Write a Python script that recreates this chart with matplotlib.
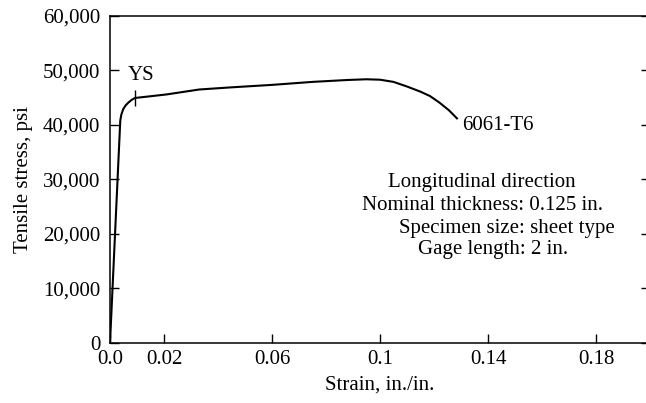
import matplotlib
matplotlib.use("Agg")
import matplotlib.pyplot as plt
from matplotlib.ticker import FuncFormatter

plt.rcParams['font.family'] = ['Liberation Serif', 'DejaVu Serif']

strain = [0, 0.0038, 0.0042, 0.0049, 0.0058, 0.0068, 0.0080, 0.0093, 0.013,
          0.021, 0.033, 0.045, 0.06, 0.075, 0.088, 0.095, 0.100, 0.105, 0.110,
          0.115, 0.1185, 0.122, 0.1255, 0.1285]
stress = [0, 40800, 41900, 42900, 43600, 44100, 44600, 44950, 45150,
          45600, 46500, 46900, 47350, 47900, 48250, 48380, 48300, 47900, 47050,
          46100, 45300, 44100, 42700, 41200]

ys_strain = 0.0093
ys_stress = 44950

x_ticks = [0.0, 0.02, 0.06, 0.1, 0.14, 0.18]
x_ticklabels = ["0.0", "0.02", "0.06", "0.1", "0.14", "0.18"]
y_ticks = [0, 10000, 20000, 30000, 40000, 50000, 60000]

notes = ["Longitudinal direction", "Nominal thickness: 0.125 in.",
         "Specimen size: sheet type", "Gage length: 2 in."]

FS = 15

fig = plt.figure(figsize=(6.46, 4.03), dpi=100)
ax = fig.add_axes([0.1703, 0.1496, 0.8359, 0.8107])

ax.plot(strain, stress, color='black', lw=1.5, solid_joinstyle='round')
ax.plot([ys_strain], [ys_stress], marker='|', color='black', ms=11, mew=1.0)

ax.set_xlim(0, 0.2)
ax.set_ylim(0, 60000)
ax.set_xticks(x_ticks)
ax.set_xticklabels(x_ticklabels)
ax.set_yticks(y_ticks)
ax.yaxis.set_major_formatter(FuncFormatter(lambda v, p: f"{int(v):,}"))

for s in ax.spines.values():
    s.set_linewidth(1.1)

ax.tick_params(axis='both', direction='in', length=6.5, width=1.0, labelsize=FS)
ax.tick_params(axis='y', right=True, pad=7)
ax.tick_params(axis='x', pad=5)

ax.set_xlabel("Strain, in./in.", fontsize=FS, labelpad=5)
ax.set_ylabel("Tensile stress, psi", fontsize=FS, labelpad=7)

ax.text(0.0067, 49000, "YS", fontsize=FS, va='center', ha='left')
ax.text(0.1304, 39800, "6061-T6", fontsize=FS, va='center', ha='left')

note_x = [0.1378, 0.1378, 0.147, 0.1419]
note_y = [29410, 25180, 20940, 17070]
for t, nx, ny in zip(notes, note_x, note_y):
    ax.text(nx, ny, t, fontsize=FS, ha='center', va='center')

fig.savefig("out.png", dpi=100)
